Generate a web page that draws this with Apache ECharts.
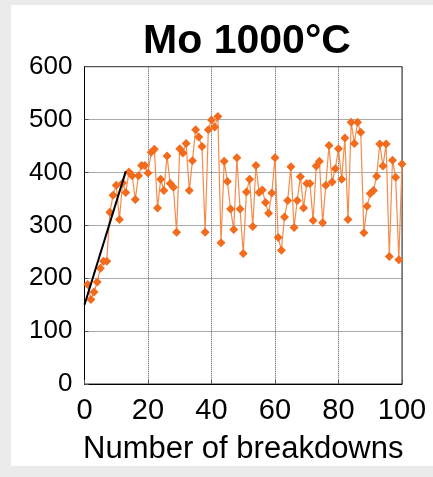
<!DOCTYPE html>
<html><head><meta charset="utf-8">
<script src="https://cdn.jsdelivr.net/npm/echarts@6/dist/echarts.min.js"></script>
<style>html,body{margin:0;padding:0;background:#ebebeb;}#c{width:433px;height:477px;}</style>
</head><body><div id="c"></div>
<script>
const breakdowns = [];
for (let i = 1; i <= 100; i++) breakdowns.push(i);
const voltage = [188,160,174,193,219,232,232,325,357,376,
311,380,362,401,394,349,394,413,413,399,
438,444,333,387,366,431,379,372,287,445,
437,455,366,422,481,467,449,287,481,499,
486,506,267,421,383,331,292,428,331,247,
363,387,298,413,362,367,343,323,361,428,
277,253,316,347,411,296,347,392,333,379,
379,309,412,421,305,376,451,382,407,445,
387,465,311,495,455,495,476,286,336,360,
366,393,454,412,454,241,423,391,235,416];
const fitX = [0, 13];
const fitY = [150, 402];
const xTicks = [0, 20, 40, 60, 80, 100];
const yTicks = [0, 100, 200, 300, 400, 500, 600];

const chart = echarts.init(document.getElementById('c'));
const font = 'Liberation Sans, Arial, sans-serif';
chart.setOption({
  backgroundColor: '#ebebeb',
  animation: false,
  graphic: [{type:'rect', z:-10, shape:{x:11,y:5,width:422,height:461}, style:{fill:'#ffffff'}}],
  title: {text:'Mo 1000°C', left: 242, textAlign:'center', top: 16,
    textStyle:{fontFamily:font, fontSize:41, fontWeight:'bold', color:'#000'}},
  grid: {left:84.5, right:31, top:66.7, bottom:93, show:true, borderColor:'#333', borderWidth:1, backgroundColor:'#fff'},
  xAxis: {type:'value', min:xTicks[0], max:xTicks[xTicks.length-1], interval:20,
    name:'Number of breakdowns', nameLocation:'middle', nameGap:50,
    nameTextStyle:{fontFamily:font, fontSize:31, color:'#000'},
    axisLine:{lineStyle:{color:'#000', width:1}},
    axisTick:{inside:true, length:4, lineStyle:{color:'#555'}},
    axisLabel:{fontFamily:font, fontSize:29, color:'#000', margin:12},
    splitLine:{show:true, lineStyle:{color:'#555', type:'dotted', width:1}}},
  yAxis: {type:'value', min:yTicks[0], max:yTicks[yTicks.length-1], interval:100,
    axisLine:{show:true, lineStyle:{color:'#000', width:1}},
    axisTick:{show:true, inside:true, length:4, lineStyle:{color:'#555'}},
    axisLabel:{fontFamily:font, fontSize:26, color:'#000', margin:12},
    splitLine:{show:true, lineStyle:{color:'#555', type:'dotted', width:1}}},
  series: [
    {type:'line', data: breakdowns.map((x,i)=>[x, voltage[i]]),
      symbol:'diamond', symbolSize:9, showSymbol:true,
      lineStyle:{color:'#f58c4c', width:1.2},
      itemStyle:{color:'#f36b1c', borderWidth:0}, z:3},
    {type:'line', data: fitX.map((x,i)=>[x, fitY[i]]), symbol:'none',
      lineStyle:{color:'#000', width:2}, z:4}
  ]
});
</script></body></html>
